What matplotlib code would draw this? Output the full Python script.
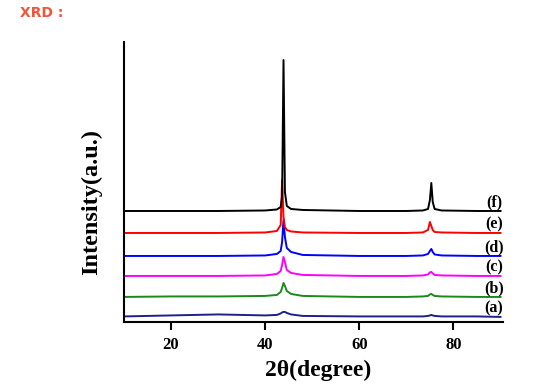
"""XRD patterns of samples (a)-(f), stacked"""

import matplotlib
matplotlib.use("Agg")
import matplotlib.pyplot as plt

# 2theta grid shared by all patterns (degree)
two_theta = [10, 20, 30, 40, 42.5, 43.3, 43.6, 43.9, 44.2, 44.6, 45.5, 48,
             60, 70, 73.5, 74.6, 75.0, 75.3, 75.6, 76.0, 77.5, 85, 90]

# intensities (a.u., already stacked)
int_a = [5.5, 6.5, 7.5, 6.5, 7, 8.5, 9.5, 10, 10, 9, 7.5, 6,
         5.5, 5.5, 5.5, 6, 6.5, 7, 6.5, 6, 5.5, 5.5, 5]
int_b = [25, 25.5, 25.5, 26, 27, 30, 34, 39, 36, 31, 28, 26,
         25, 25, 25.5, 26, 27.5, 28, 27, 26, 25.5, 25, 25]
int_c = [46, 46, 46, 46.5, 48, 51, 57, 65, 60, 52, 49, 47,
         46, 46, 46.5, 47.5, 49.5, 50, 48.5, 47, 46.5, 46, 46]
int_d = [66, 66, 66, 66.5, 68, 71, 80, 102, 85, 74, 70, 67,
         66, 66, 66.5, 68, 71, 73, 70, 67.5, 66.5, 66, 66]
int_e = [89, 89, 89, 89.5, 91, 97, 142, 105, 95, 92, 90.5, 89.5,
         89, 89, 89.5, 92, 100, 96, 92, 90, 89.5, 89, 89]
int_f = [111, 111, 111, 111.5, 112.5, 115, 125, 262, 130, 116, 113, 112,
         111, 111, 111.5, 113, 122, 139, 120, 113, 111.5, 111, 111]

patterns = [int_a, int_b, int_c, int_d, int_e, int_f]
labels = ["(a)", "(b)", "(c)", "(d)", "(e)", "(f)"]
colors = ["#1f1f8a", "#1a8a1a", "#ff00ff", "#0000ff", "#ff0000", "#000000"]

serif = ["Liberation Serif", "DejaVu Serif"]

fig = plt.figure(figsize=(5.46, 3.86), dpi=100)
ax = fig.add_axes([0.227, 0.166, 0.694, 0.725])

for ys, lab, c in zip(patterns, labels, colors):
    ax.plot(two_theta, ys, color=c, lw=1.4)
    ax.text(88.6, ys[-1] + 1.0, lab, ha="center", va="bottom",
            fontsize=11.5, fontweight="bold", family=serif)

ax.set_xlim(10, 90.5)
ax.set_ylim(0, 280)
ax.set_xticks([20, 40, 60, 80])
ax.set_xticklabels(["20", "40", "60", "80"], fontsize=12, fontweight="bold",
                   family=serif)
ax.set_yticks([])
for side in ["top", "right"]:
    ax.spines[side].set_visible(False)
for side in ["left", "bottom"]:
    ax.spines[side].set_linewidth(1.5)
ax.tick_params(axis="x", direction="out", length=6, width=1.5, pad=5)

ax.set_xlabel("2θ(degree)", fontsize=17, fontweight="bold", family=serif)
ax.xaxis.set_label_coords(0.513, -0.135)
ax.set_ylabel("Intensity(a.u.)", fontsize=17.5, fontweight="bold", family=serif)
ax.yaxis.set_label_coords(-0.058, 0.43)

fig.text(0.037, 0.967, "XRD :", color="#f4553a", fontsize=10, fontweight="bold",
         va="center", ha="left", family=["DejaVu Sans"])

fig.savefig("out.png", dpi=100)
